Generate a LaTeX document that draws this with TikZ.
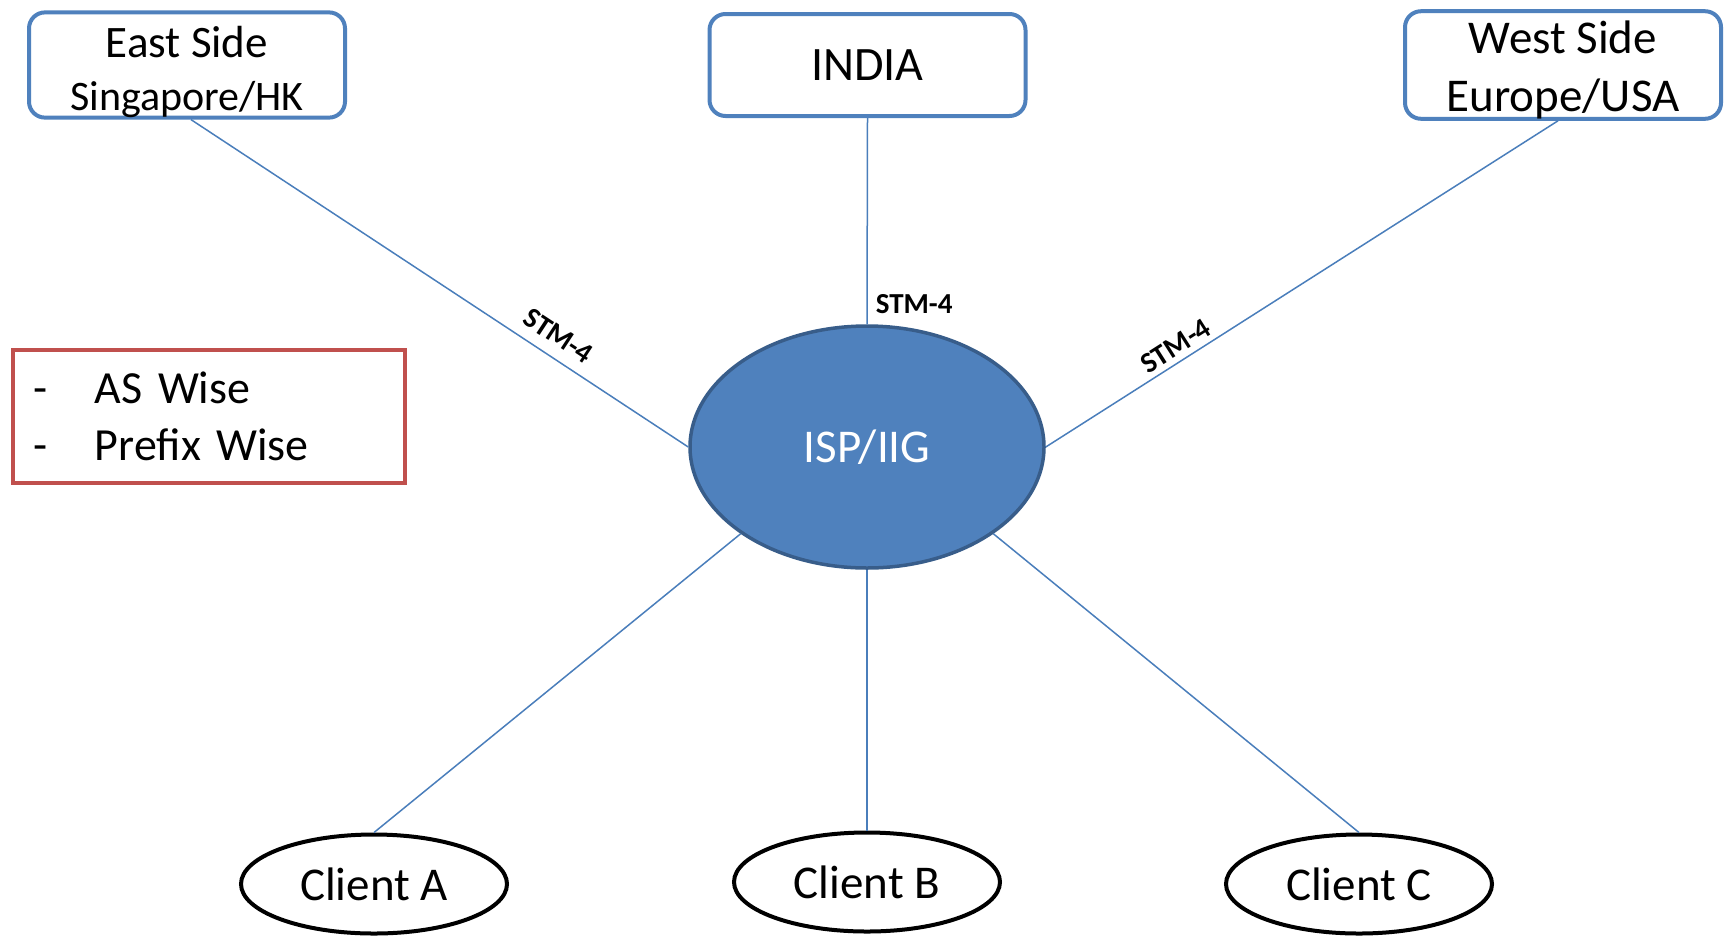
\documentclass[tikz,border=0pt]{standalone}
\usepackage{fontspec}
\setmainfont{Carlito}
\usetikzlibrary{shapes.geometric}
\definecolor{boxblue}{HTML}{4F81BD}
\definecolor{rimblue}{HTML}{385D8A}
\definecolor{linkblue}{HTML}{4A7EBB}
\definecolor{notered}{HTML}{C0504D}
\begin{document}
\begin{tikzpicture}[x=1pt,y=-1pt,
  site/.style={draw=boxblue, line width=4pt, rounded corners=16pt, fill=white,
    minimum width=316pt, minimum height=102pt, align=center, inner sep=0pt},
  hub/.style={ellipse, draw=rimblue, line width=3.5pt, fill=boxblue, text=white,
    minimum width=354pt, minimum height=242pt, inner sep=0pt,
    font=\fontsize{47}{56}\selectfont},
  client/.style={ellipse, draw=black, line width=4pt, fill=white,
    minimum width=266pt, minimum height=99pt, inner sep=0pt,
    font=\fontsize{47}{56}\selectfont},
  notebox/.style={draw=notered, line width=4pt, fill=white,
    minimum width=392pt, minimum height=133pt, text width=352pt, align=left,
    inner xsep=0pt, font=\fontsize{46}{57}\selectfont},
  link/.style={draw=linkblue, line width=1.5pt},
  linklabel/.style={font=\fontsize{29}{34}\selectfont\bfseries, inner sep=2pt}
]
\useasboundingbox (0,0) rectangle (1729,943);

% upstream sites (struts push the two-line texts slightly down)
\node[site, font=\fontsize{45}{53}\selectfont] (east) at (187,65)
  {\rule{0pt}{45pt}East Side\\{\fontsize{42}{53}\selectfont Singapore/HK}};
\node[site, font=\fontsize{48}{56}\selectfont] (india) at (867.5,65) {INDIA};
\node[site, font=\fontsize{47}{58}\selectfont] (west) at (1563,65)
  {\rule{0pt}{42pt}West Side\\Europe/USA};

% routing policy note
\node[notebox] (policy) at (209,416.5)
  {\makebox[62pt][l]{-}AS Wise\\\makebox[62pt][l]{-}Prefix Wise};

% central gateway
\node[hub] (hub) at (867,447) {ISP/IIG};

% downstream clients
\node[client] (clientA) at (374,884) {Client A};
\node[client] (clientB) at (867,882) {Client B};
\node[client] (clientC) at (1359,884) {Client C};

% links
\draw[link] ([xshift=4pt]east.south) -- (hub.west)
  node[linklabel, sloped, above=9pt, pos=0.715] {STM-4};
\draw[link] (india.south) -- (hub.north)
  node[linklabel, anchor=west, pos=0.9, xshift=6pt] {STM-4};
\draw[link] (hub.east) -- ([xshift=-5pt]west.south)
  node[linklabel, sloped, above=3pt, pos=0.27] {STM-4};
\draw[link] (hub.south west) -- (clientA.north);
\draw[link] (hub.south) -- (clientB.north);
\draw[link] (hub.south east) -- (clientC.north);
\end{tikzpicture}
\end{document}
